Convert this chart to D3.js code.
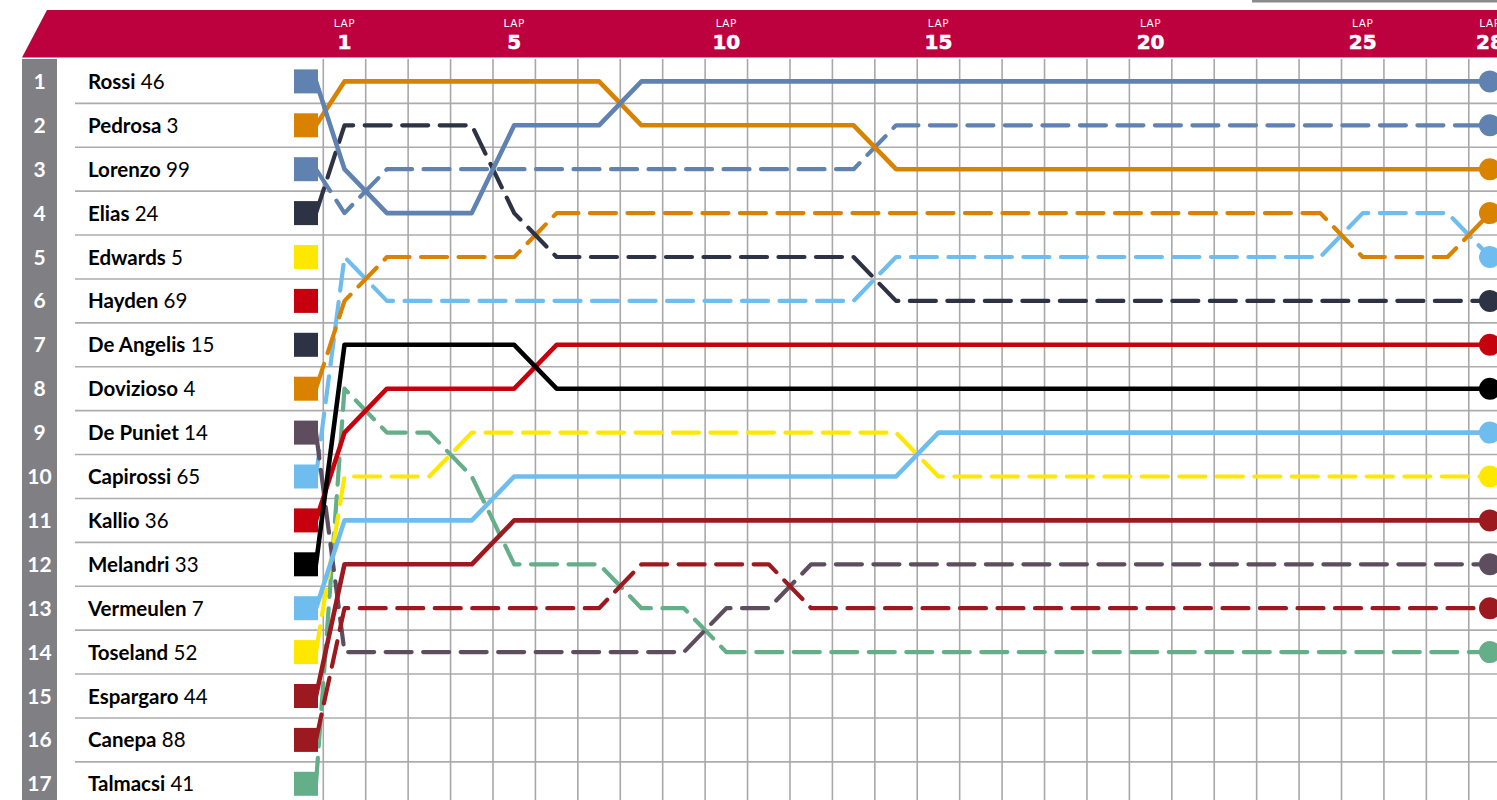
<!DOCTYPE html>
<html>
<head>
<meta charset="utf-8">
<script src="https://cdn.jsdelivr.net/npm/d3@7"></script>
<style>
  html, body { margin: 0; padding: 0; background: #fff; overflow: hidden; }
  svg { display: block; }
</style>
</head>
<body>
<svg id="chart" width="1497" height="800"></svg>
<script>
// ---------------- DATA ----------------
// Starting grid (row order), names and bike numbers
const gridNames = ["Rossi","Pedrosa","Lorenzo","Elias","Edwards","Hayden","De Angelis","Dovizioso","De Puniet","Capirossi","Kallio","Melandri","Vermeulen","Toseland","Espargaro","Canepa","Talmacsi"];
const bikeNumbers = [46,3,99,24,5,69,15,4,14,65,36,33,7,52,44,88,41];
const gridPositions = [1,2,3,4,5,6,7,8,9,10,11,12,13,14,15,16,17];
const lapTicks = [1,5,10,15,20,25,28];
const lapsAll = [0,1,2,3,4,5,6,7,8,9,10,11,12,13,14,15,16,17,18,19,20,21,22,23,24,25,26,27,28];

// Position per lap, lap 0 = grid
const posRossi     = [1,3,4,4,4,2,2,2,1,1,1,1,1,1,1,1,1,1,1,1,1,1,1,1,1,1,1,1,1];
const posPedrosa   = [2,1,1,1,1,1,1,1,2,2,2,2,2,2,3,3,3,3,3,3,3,3,3,3,3,3,3,3,3];
const posLorenzo   = [3,4,3,3,3,3,3,3,3,3,3,3,3,3,2,2,2,2,2,2,2,2,2,2,2,2,2,2,2];
const posElias     = [4,2,2,2,2,4,5,5,5,5,5,5,5,5,6,6,6,6,6,6,6,6,6,6,6,6,6,6,6];
const posDovizioso = [8,6,5,5,5,5,4,4,4,4,4,4,4,4,4,4,4,4,4,4,4,4,4,4,4,5,5,5,4];
const posDePuniet  = [9,14,14,14,14,14,14,14,14,14,13,13,12,12,12,12,12,12,12,12,12,12,12,12,12,12,12,12,12];
const posCapirossi = [10,5,6,6,6,6,6,6,6,6,6,6,6,6,5,5,5,5,5,5,5,5,5,5,5,4,4,4,5];
const posKallio    = [11,9,8,8,8,8,7,7,7,7,7,7,7,7,7,7,7,7,7,7,7,7,7,7,7,7,7,7,7];
const posMelandri  = [12,7,7,7,7,7,8,8,8,8,8,8,8,8,8,8,8,8,8,8,8,8,8,8,8,8,8,8,8];
const posVermeulen = [13,11,11,11,11,10,10,10,10,10,10,10,10,10,10,9,9,9,9,9,9,9,9,9,9,9,9,9,9];
const posToseland  = [14,10,10,10,9,9,9,9,9,9,9,9,9,9,9,10,10,10,10,10,10,10,10,10,10,10,10,10,10];
const posEspargaro = [15,12,12,12,12,11,11,11,11,11,11,11,11,11,11,11,11,11,11,11,11,11,11,11,11,11,11,11,11];
const posCanepa    = [16,13,13,13,13,13,13,13,12,12,12,12,13,13,13,13,13,13,13,13,13,13,13,13,13,13,13,13,13];
const posTalmacsi  = [17,8,9,9,10,12,12,12,13,13,14,14,14,14,14,14,14,14,14,14,14,14,14,14,14,14,14,14,14];

// ---------------- STYLE ----------------
const C = {
  steel: "#5f82b0", orange: "#d98200", navy: "#2d3244", yellow: "#ffe800",
  red: "#c6000c", black: "#000000", light: "#6fbdee", purple: "#5e4d5e",
  darkred: "#9c1a1f", green: "#64ae8a"
};
const squareColors = [C.steel, C.orange, C.steel, C.navy, C.yellow, C.red, C.navy, C.orange, C.purple, C.light, C.red, C.black, C.light, C.yellow, C.darkred, C.darkred, C.green];

const riders = [
  {name:"Capirossi", pos: posCapirossi, color: C.light,   dashed: true},
  {name:"Dovizioso", pos: posDovizioso, color: C.orange,  dashed: true},
  {name:"Talmacsi",  pos: posTalmacsi,  color: C.green,   dashed: true},
  {name:"Toseland",  pos: posToseland,  color: C.yellow,  dashed: true},
  {name:"De Puniet", pos: posDePuniet,  color: C.purple,  dashed: true},
  {name:"Canepa",    pos: posCanepa,    color: C.darkred, dashed: true},
  {name:"Espargaro", pos: posEspargaro, color: C.darkred, dashed: false},
  {name:"Vermeulen", pos: posVermeulen, color: C.light,   dashed: false},
  {name:"Kallio",    pos: posKallio,    color: C.red,     dashed: false},
  {name:"Melandri",  pos: posMelandri,  color: C.black,   dashed: false},
  {name:"Elias",     pos: posElias,     color: C.navy,    dashed: true},
  {name:"Lorenzo",   pos: posLorenzo,   color: C.steel,   dashed: true},
  {name:"Pedrosa",   pos: posPedrosa,   color: C.orange,  dashed: false},
  {name:"Rossi",     pos: posRossi,     color: C.steel,   dashed: false}
];

// ---------------- SCALES ----------------
const W = 1497, H = 800;
const x = d3.scaleLinear().domain([0, 1, 28]).range([316, 344.5, 1490]);
const y = d3.scaleLinear().domain([1, 17]).range([81.4, 783.8]);
const step = x(2) - x(1);
const rowH = y(2) - y(1);

const svg = d3.select("#chart");
const FONT = "Lato, 'Open Sans', sans-serif";
const HFONT = "'DejaVu Sans', Verdana, sans-serif";

// top-right grey rule
svg.append("rect").attr("x", 1252).attr("y", 0).attr("width", W - 1252).attr("height", 2.5).attr("fill", "#8a8a8c");

// header band
svg.append("path")
  .attr("d", `M47,10 L${W},10 L${W},57.5 L22,57.5 Z`)
  .attr("fill", "#bd003e");

// row number column
svg.append("rect").attr("x", 22).attr("y", 59).attr("width", 35).attr("height", H - 59).attr("fill", "#807f84");

// horizontal separators
const sepRows = d3.range(1, 17);
svg.append("g").selectAll("line").data(sepRows).join("line")
  .attr("x1", 75).attr("x2", W)
  .attr("y1", d => y(d) + rowH / 2).attr("y2", d => y(d) + rowH / 2)
  .attr("stroke", "#acacac").attr("stroke-width", 1.6);

// vertical grid lines
const vLines = d3.range(1, 29);
svg.append("g").selectAll("line").data(vLines).join("line")
  .attr("x1", d => x(d) - step / 2).attr("x2", d => x(d) - step / 2)
  .attr("y1", 59).attr("y2", H)
  .attr("stroke", "#a8a8a8").attr("stroke-width", 1.6);

// header lap labels
const hdr = svg.append("g").selectAll("g").data(lapTicks).join("g")
  .attr("transform", d => `translate(${x(d)},0)`);
hdr.append("text").attr("y", 27).attr("text-anchor", "middle")
  .attr("fill", "#fff").attr("font-family", HFONT).attr("font-size", 10.5)
  .attr("letter-spacing", 0.6).text("LAP");
hdr.append("text").attr("y", 48.5).attr("text-anchor", "middle")
  .attr("fill", "#fff").attr("font-family", HFONT).attr("font-weight", 700).attr("font-size", 20)
  .attr("stroke", "#fff").attr("stroke-width", 0.6)
  .text(d => d);

// row numbers
svg.append("g").selectAll("text").data(gridPositions).join("text")
  .attr("x", 39.5).attr("y", d => y(d) + 7.5)
  .attr("text-anchor", "middle").attr("fill", "#fff")
  .attr("font-family", FONT).attr("font-weight", 700).attr("font-size", 21)
  .text(d => d);

// rider names
const names = svg.append("g").selectAll("text").data(gridPositions).join("text")
  .attr("x", 88).attr("y", d => y(d) + 7.5)
  .attr("font-family", FONT).attr("font-size", 20.5).attr("fill", "#000");
names.append("tspan").attr("font-weight", 700).text(d => gridNames[d - 1]);
names.append("tspan").attr("font-weight", 400).text(d => " " + bikeNumbers[d - 1]);

// rider lines
const line = d3.line().x((d, i) => x(lapsAll[i])).y(d => y(d));
const lg = svg.append("g");
riders.forEach(r => {
  lg.append("path")
    .attr("d", line(r.pos))
    .attr("fill", "none")
    .attr("stroke", r.color)
    .attr("stroke-width", r.dashed ? 4.2 : 4.6)
    .attr("stroke-linecap", "round")
    .attr("stroke-linejoin", "round")
    .attr("stroke-dasharray", r.dashed ? "26,11.5" : null);
});

// grid squares
svg.append("g").selectAll("rect").data(gridPositions).join("rect")
  .attr("x", 294).attr("y", d => y(d) - 12).attr("width", 24).attr("height", 24)
  .attr("fill", d => squareColors[d - 1]);

// final dots
svg.append("g").selectAll("circle").data(riders).join("circle")
  .attr("cx", x(28)).attr("cy", d => y(d.pos[28])).attr("r", 11)
  .attr("fill", d => d.color);
</script>
</body>
</html>
